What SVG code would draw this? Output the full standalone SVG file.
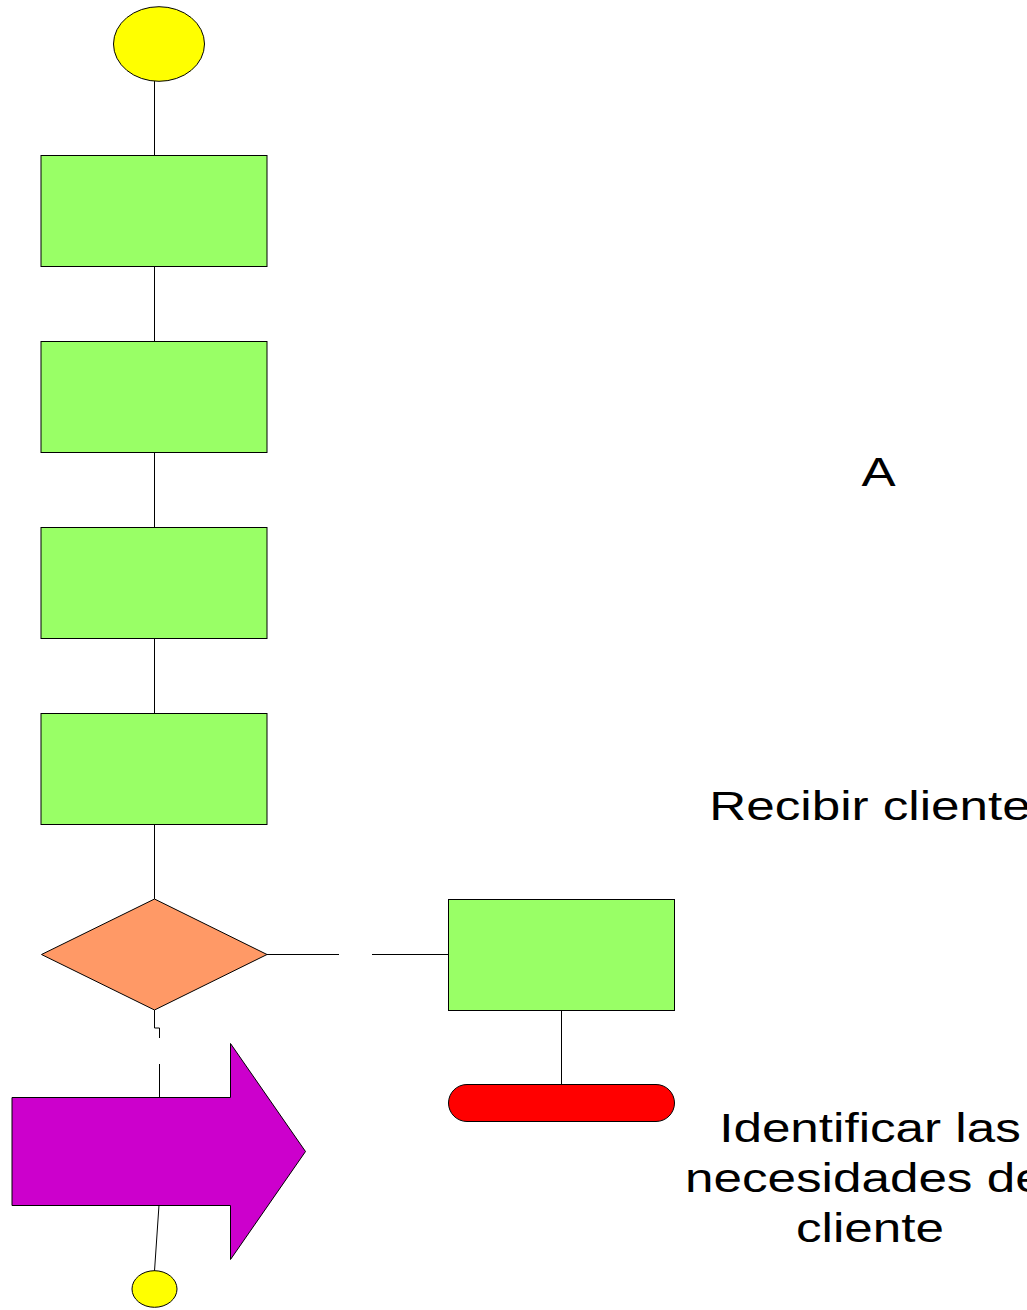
<svg xmlns="http://www.w3.org/2000/svg" width="1027" height="1310" viewBox="0 0 1027 1310">
<style>
.proc{fill:#99ff66;stroke:#000;stroke-width:1}
.term{fill:#ffff00;stroke:#000;stroke-width:1}
.conn{fill:none;stroke:#000;stroke-width:1}
.lbl{font-family:"Liberation Sans",Arial,sans-serif;font-size:40px;fill:#000;text-anchor:middle}
</style>
<rect width="1027" height="1310" fill="#fff"/>
<g id="connectors">
<line class="conn" x1="154.5" y1="81" x2="154.5" y2="155"/>
<line class="conn" x1="154.5" y1="266" x2="154.5" y2="341"/>
<line class="conn" x1="154.5" y1="452" x2="154.5" y2="527"/>
<line class="conn" x1="154.5" y1="638" x2="154.5" y2="713"/>
<line class="conn" x1="154.5" y1="824" x2="154.5" y2="899"/>
<line class="conn" x1="267" y1="954.5" x2="339" y2="954.5"/>
<line class="conn" x1="372" y1="954.5" x2="448" y2="954.5"/>
<line class="conn" x1="561.5" y1="1010" x2="561.5" y2="1084"/>
<polyline class="conn" points="154.5,1010 154.5,1028 159.5,1028 159.5,1038"/>
<line class="conn" x1="159.5" y1="1064" x2="159.5" y2="1097"/>
<line class="conn" x1="159" y1="1205" x2="154.5" y2="1271"/>
</g>
<g id="start"><ellipse class="term" cx="159" cy="44" rx="45.5" ry="37.3"/></g>
<g id="step1"><rect class="proc" x="41" y="155.5" width="226" height="111"/></g>
<g id="step2"><rect class="proc" x="41" y="341.5" width="226" height="111"/></g>
<g id="step3"><rect class="proc" x="41" y="527.5" width="226" height="111"/></g>
<g id="step4"><rect class="proc" x="41" y="713.5" width="226" height="111"/></g>
<g id="decision"><polygon points="41.5,954.5 154.5,899 267,954.5 154.5,1010" fill="#ff9966" stroke="#000" stroke-width="1"/></g>
<g id="step5"><rect class="proc" x="448.5" y="899.5" width="226" height="111"/></g>
<g id="end"><rect x="448.5" y="1084.5" width="226" height="37" rx="18.5" ry="18.5" fill="#ff0000" stroke="#000" stroke-width="1"/></g>
<g id="arrow"><polygon points="12,1097.5 230.5,1097.5 230.5,1043.5 305.5,1151.5 230.5,1259.5 230.5,1205.5 12,1205.5" fill="#cc00cc" stroke="#000" stroke-width="1"/></g>
<g id="connector-end"><ellipse class="term" cx="154.5" cy="1289" rx="22.5" ry="18.3"/></g>
<g id="labels">
<text class="lbl" transform="translate(878.5,486) scale(1.28,1)">A</text>
<text class="lbl" transform="translate(870,820) scale(1.28,1)">Recibir cliente</text>
<text class="lbl" transform="translate(870,0) scale(1.28,1)"><tspan x="0" y="1142">Identificar las</tspan><tspan x="0" y="1192">necesidades del</tspan><tspan x="0" y="1242">cliente</tspan></text>
</g>
</svg>
